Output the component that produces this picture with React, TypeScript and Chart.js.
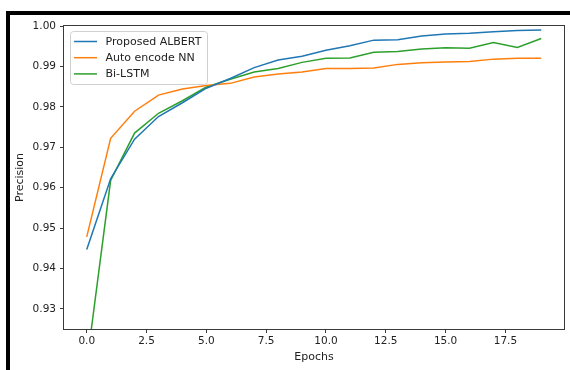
import React, { useEffect, useRef } from "react";
import { Chart, registerables } from "chart.js";

Chart.register(...registerables);

const epochs = [0, 1, 2, 3, 4, 5, 6, 7, 8, 9, 10, 11, 12, 13, 14, 15, 16, 17, 18, 19];
const albert = [0.9447, 0.9622, 0.9720, 0.9776, 0.9810, 0.9846, 0.9870, 0.9897, 0.9916, 0.9925, 0.9940, 0.9951, 0.9965, 0.9966, 0.9975, 0.9980, 0.9982, 0.9986, 0.9989, 0.9990];
const autoEncode = [0.9478, 0.9722, 0.9789, 0.9829, 0.9844, 0.9853, 0.9858, 0.9874, 0.9881, 0.9886, 0.9895, 0.9895, 0.9896, 0.9905, 0.9909, 0.9911, 0.9912, 0.9918, 0.9920, 0.9920];
const biLstm = [0.9162, 0.9618, 0.9735, 0.9784, 0.9815, 0.9849, 0.9868, 0.9886, 0.9895, 0.9910, 0.9920, 0.9921, 0.9935, 0.9937, 0.9943, 0.9946, 0.9945, 0.9959, 0.9947, 0.9969];
const seriesNames = ["Proposed ALBERT", "Auto encode NN", "Bi-LSTM"];
const seriesColors = ["#1f77b4", "#ff7f0e", "#2ca02c"];
const xTicks = [0, 2.5, 5, 7.5, 10, 12.5, 15, 17.5];
const yTicks = [0.93, 0.94, 0.95, 0.96, 0.97, 0.98, 0.99, 1.0];

const FONT = "'DejaVu Sans', sans-serif";
const TEXT = "#222";
const SPINE = "#3a3a3a";

const framePlugin = {
  id: "frameAndLegend",
  afterDraw(chart: any) {
    const { ctx, chartArea } = chart;
    const { left, top, right, bottom } = chartArea;
    ctx.save();
    ctx.strokeStyle = SPINE;
    ctx.lineWidth = 1;
    ctx.strokeRect(Math.round(left) - 0.5, Math.round(top) - 0.5, Math.round(right - left) + 1, Math.round(bottom - top) + 1);

    // legend box (upper left inside plot)
    const bx = left + 6.5;
    const by = top + 5.5;
    const bw = 137;
    const bh = 53;
    const r = 3;
    ctx.beginPath();
    ctx.moveTo(bx + r, by);
    ctx.lineTo(bx + bw - r, by);
    ctx.arcTo(bx + bw, by, bx + bw, by + r, r);
    ctx.lineTo(bx + bw, by + bh - r);
    ctx.arcTo(bx + bw, by + bh, bx + bw - r, by + bh, r);
    ctx.lineTo(bx + r, by + bh);
    ctx.arcTo(bx, by + bh, bx, by + bh - r, r);
    ctx.lineTo(bx, by + r);
    ctx.arcTo(bx, by, bx + r, by, r);
    ctx.closePath();
    ctx.fillStyle = "rgba(255,255,255,0.8)";
    ctx.fill();
    ctx.strokeStyle = "#d0d0d0";
    ctx.lineWidth = 1;
    ctx.stroke();

    ctx.font = `11px ${FONT}`;
    ctx.textBaseline = "middle";
    ctx.textAlign = "left";
    chart.data.datasets.forEach((ds: any, i: number) => {
      const y = by + 10 + i * 16.2;
      ctx.beginPath();
      ctx.strokeStyle = ds.borderColor;
      ctx.lineWidth = 1.5;
      ctx.moveTo(bx + 3.5, y);
      ctx.lineTo(bx + 26.5, y);
      ctx.stroke();
      ctx.fillStyle = TEXT;
      ctx.fillText(ds.label, bx + 35, y + 0.5);
    });
    ctx.restore();
  },
};

export default function App() {
  const ref = useRef<HTMLCanvasElement | null>(null);

  useEffect(() => {
    if (!ref.current) return;
    const series = [albert, autoEncode, biLstm];
    const chart = new Chart(ref.current, {
      type: "line",
      data: {
        datasets: series.map((s, k) => ({
          label: seriesNames[k],
          data: s.map((v, i) => ({ x: epochs[i], y: v })),
          borderColor: seriesColors[k],
          backgroundColor: seriesColors[k],
          borderWidth: 1.5,
          pointRadius: 0,
          tension: 0,
          fill: false,
        })),
      },
      options: {
        responsive: false,
        animation: false,
        events: [],
        layout: { padding: { left: 0, top: 26, right: 6, bottom: 0 } },
        plugins: {
          legend: { display: false },
          tooltip: { enabled: false },
        },
        scales: {
          x: {
            type: "linear",
            min: -0.95,
            max: 19.95,
            afterBuildTicks: (scale: any) => {
              scale.ticks = xTicks.map((v) => ({ value: v }));
            },
            afterFit: (scale: any) => {
              scale.height = 41;
            },
            ticks: {
              callback: (v: any) => Number(v).toFixed(1),
              font: { family: FONT, size: 10.5 },
              color: TEXT,
              padding: 2,
              maxRotation: 0,
              autoSkip: false,
            },
            grid: { drawOnChartArea: false, drawTicks: true, tickLength: 4, color: SPINE },
            border: { display: false },
            title: {
              display: true,
              text: "Epochs",
              font: { family: FONT, size: 11 },
              color: TEXT,
              padding: { top: 0, bottom: 6 },
            },
          },
          y: {
            type: "linear",
            min: 0.925,
            max: 1.0,
            afterBuildTicks: (scale: any) => {
              scale.ticks = yTicks.map((v) => ({ value: v }));
            },
            afterFit: (scale: any) => {
              scale.width = 64;
            },
            ticks: {
              callback: (v: any) => Number(v).toFixed(2),
              font: { family: FONT, size: 10.5 },
              color: TEXT,
              padding: 4,
              autoSkip: false,
            },
            grid: { drawOnChartArea: false, drawTicks: true, tickLength: 4, color: SPINE },
            border: { display: false },
            title: {
              display: true,
              text: "Precision",
              font: { family: FONT, size: 11 },
              color: TEXT,
              padding: { top: 14, bottom: 0 },
            },
          },
        },
      },
      plugins: [framePlugin],
    });
    return () => chart.destroy();
  }, []);

  return (
    <div style={{ position: "absolute", left: 0, top: 0, width: 570, height: 370, background: "#fff", overflow: "hidden" }}>
      <div
        style={{
          position: "absolute",
          left: 6,
          top: 11,
          width: 564,
          height: 359,
          borderTop: "4px solid #000",
          borderLeft: "4px solid #000",
          boxSizing: "border-box",
        }}
      />
      <canvas ref={ref} width={570} height={370} style={{ position: "absolute", left: 0, top: 0, width: 570, height: 370 }} />
    </div>
  );
}
